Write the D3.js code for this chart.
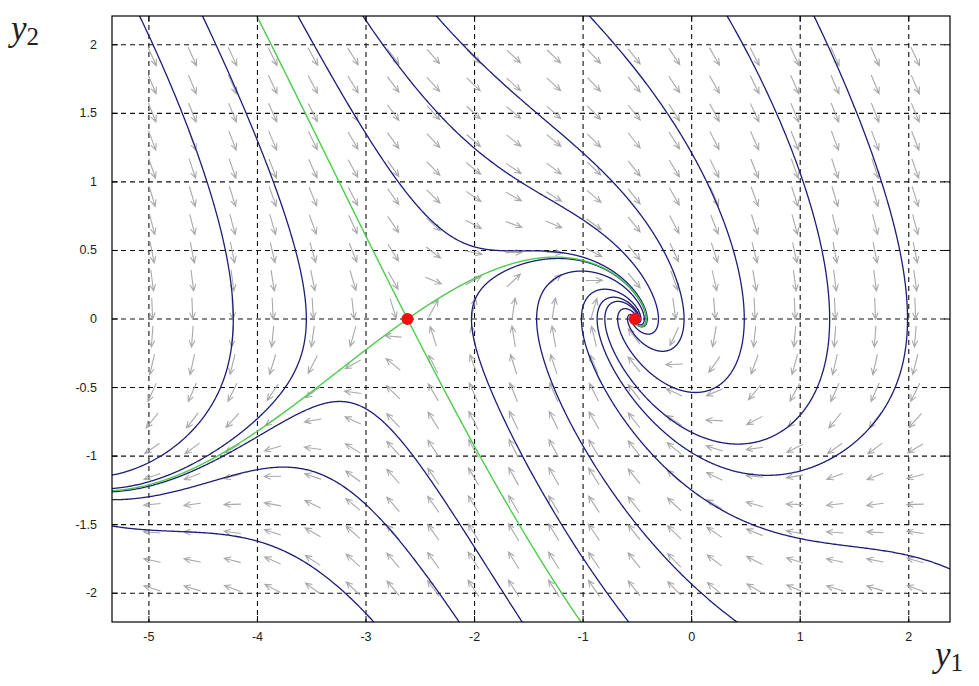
<!DOCTYPE html>
<html><head><meta charset="utf-8">
<script src="https://cdn.jsdelivr.net/npm/d3@7"></script>
<style>body{margin:0;background:#fff;} svg{display:block}</style>
</head><body>
<svg id="c" width="979" height="686"></svg>
<script>
// ---- data ----
const xDomain = [-5.34, 2.38];
const yDomain = [-2.21, 2.21];
const xTicks = [-5, -4, -3, -2, -1, 0, 1, 2];
const yTicks = [-2, -1.5, -1, -0.5, 0, 0.5, 1, 1.5, 2];
// system: y1' = y2 ; y2' = -damping*y2 - sin(y1) - forcing
const damping = 1.0;
const forcing = 0.5;
const equilibriaY1 = [-2.618, -0.5236];
const equilibriaY2 = [0, 0];
const saddleIndex = 0;
const focusIndex = 1;
const topSeedsY1 = [-5.08, -4.50, -3.62, -3.02, -2.34, -0.93, 0.334, 1.133];
const bottomSeedsY1 = [-2.94, -2.15, -1.57, -0.59, 0.40];
const rightSeedsY2 = [-1.82];
// direction-field grid
const fieldX = [-4.97,-4.60,-4.23,-3.86,-3.49,-3.12,-2.75,-2.38,-2.01,-1.64,-1.27,-0.90,-0.53,-0.16,0.21,0.58,0.95,1.32,1.69,2.06];
const fieldY = [1.915,1.711,1.506,1.302,1.098,0.894,0.690,0.485,0.281,0.077,-0.127,-0.331,-0.535,-0.740,-0.944,-1.148,-1.352,-1.556,-1.761,-1.965];

// ---- layout ----
const M = {left: 112, top: 16, right: 950, bottom: 622};
const svg = d3.select('#c');
const x = d3.scaleLinear().domain(xDomain).range([M.left, M.right]);
const y = d3.scaleLinear().domain(yDomain).range([M.bottom, M.top]);

svg.append('defs').append('clipPath').attr('id', 'clip')
  .append('rect').attr('x', M.left).attr('y', M.top)
  .attr('width', M.right - M.left).attr('height', M.bottom - M.top);

// grid
const grid = svg.append('g').attr('stroke', '#111').attr('stroke-width', 1.1)
  .attr('stroke-dasharray', '5,4').attr('fill', 'none');
xTicks.forEach(t => grid.append('line').attr('x1', x(t)).attr('x2', x(t)).attr('y1', M.top).attr('y2', M.bottom));
yTicks.forEach(t => grid.append('line').attr('y1', y(t)).attr('y2', y(t)).attr('x1', M.left).attr('x2', M.right));

// vector field
function F(p) { return [p[1], -damping * p[1] - Math.sin(p[0]) - forcing]; }
const arrows = svg.append('g').attr('stroke', '#a9a9a9').attr('stroke-width', 1.1).attr('fill', 'none');
const L = 0.155;
fieldX.forEach(a => fieldY.forEach(b => {
  const v = F([a, b]);
  const n = Math.hypot(v[0], v[1]) || 1;
  const dx = v[0] / n * L, dy = v[1] / n * L;
  const x0 = x(a - dx / 2), y0 = y(b - dy / 2), x1 = x(a + dx / 2), y1 = y(b + dy / 2);
  const ang = Math.atan2(y1 - y0, x1 - x0);
  const h = 7, s = 0.42;
  arrows.append('path').attr('d',
    `M${x0},${y0}L${x1},${y1}M${x1 - h * Math.cos(ang - s)},${y1 - h * Math.sin(ang - s)}L${x1},${y1}L${x1 - h * Math.cos(ang + s)},${y1 - h * Math.sin(ang + s)}`);
}));

// trajectories
function rk4(p, h) {
  const k1 = F(p);
  const k2 = F([p[0] + h / 2 * k1[0], p[1] + h / 2 * k1[1]]);
  const k3 = F([p[0] + h / 2 * k2[0], p[1] + h / 2 * k2[1]]);
  const k4 = F([p[0] + h * k3[0], p[1] + h * k3[1]]);
  return [p[0] + h / 6 * (k1[0] + 2 * k2[0] + 2 * k3[0] + k4[0]),
          p[1] + h / 6 * (k1[1] + 2 * k2[1] + 2 * k3[1] + k4[1])];
}
const fx = equilibriaY1[focusIndex], fy = equilibriaY2[focusIndex];
function integrate(p0, dir) {
  const pts = [p0]; let p = p0;
  for (let i = 0; i < 8000; i++) {
    p = rk4(p, 0.008 * dir);
    pts.push(p);
    if (p[0] < xDomain[0] - 0.05 || p[0] > xDomain[1] + 0.05 || p[1] < yDomain[0] - 0.05 || p[1] > yDomain[1] + 0.05) break;
    if (Math.hypot(p[0] - fx, p[1] - fy) < 0.004) break;
  }
  return pts;
}
function orbit(p0) {
  const b = integrate(p0, -1).reverse();
  const f = integrate(p0, 1);
  return b.concat(f.slice(1));
}
const line = d3.line().x(d => x(d[0])).y(d => y(d[1]));
const seeds = [];
topSeedsY1.forEach(v => seeds.push([v, 2.2]));
bottomSeedsY1.forEach(v => seeds.push([v, -2.2]));
rightSeedsY2.forEach(v => seeds.push([2.37, v]));
const trajG = svg.append('g').attr('clip-path', 'url(#clip)').attr('fill', 'none');
seeds.forEach(s => trajG.append('path').attr('d', line(orbit(s)))
  .attr('stroke', '#1d1d78').attr('stroke-width', 1.3));

// separatrices of the saddle
const sx = equilibriaY1[saddleIndex], sy = equilibriaY2[saddleIndex];
const c = -Math.cos(sx);
const lu = (-damping + Math.sqrt(damping * damping + 4 * c)) / 2;
const ls = (-damping - Math.sqrt(damping * damping + 4 * c)) / 2;
const eps = 1e-4;
[[1, lu, 1], [1, ls, -1]].forEach(([ex, ey, dir]) => {
  const nrm = Math.hypot(ex, ey);
  [1, -1].forEach(sg => {
    const p0 = [sx + sg * eps * ex / nrm, sy + sg * eps * ey / nrm];
    const pts = integrate(p0, dir);
    pts.unshift([sx, sy]);
    trajG.append('path').attr('d', line(pts)).attr('stroke', '#4ccc4c').attr('stroke-width', 1.4);
  });
});

// frame
svg.append('rect').attr('x', M.left).attr('y', M.top).attr('width', M.right - M.left)
  .attr('height', M.bottom - M.top).attr('fill', 'none').attr('stroke', '#000').attr('stroke-width', 1.2);

// ticks + labels
const tk = svg.append('g').attr('stroke', '#000').attr('stroke-width', 1);
xTicks.forEach(t => {
  tk.append('line').attr('x1', x(t)).attr('x2', x(t)).attr('y1', M.bottom).attr('y2', M.bottom - 6);
  tk.append('line').attr('x1', x(t)).attr('x2', x(t)).attr('y1', M.top).attr('y2', M.top + 6);
});
yTicks.forEach(t => {
  tk.append('line').attr('y1', y(t)).attr('y2', y(t)).attr('x1', M.left).attr('x2', M.left + 6);
  tk.append('line').attr('y1', y(t)).attr('y2', y(t)).attr('x1', M.right).attr('x2', M.right - 6);
});
const lab = svg.append('g').attr('font-family', 'Liberation Sans, Arial, sans-serif').attr('font-size', 12.5).attr('fill', '#222');
xTicks.forEach(t => lab.append('text').attr('x', x(t)).attr('y', M.bottom + 19).attr('text-anchor', 'middle').text(String(t)));
yTicks.forEach(t => lab.append('text').attr('x', M.left - 15).attr('y', y(t) + 4).attr('text-anchor', 'end').text(String(t)));

// axis titles
const t2 = svg.append('text').attr('x', 11).attr('y', 40).attr('font-family', 'Liberation Serif, serif')
  .attr('font-style', 'italic').attr('font-size', 35).attr('fill', '#222');
t2.append('tspan').text('y');
t2.append('tspan').attr('font-style', 'normal').attr('font-size', 25).attr('dy', 5).text('2');
const t1 = svg.append('text').attr('x', 935).attr('y', 666).attr('font-family', 'Liberation Serif, serif')
  .attr('font-style', 'italic').attr('font-size', 35).attr('fill', '#222');
t1.append('tspan').text('y');
t1.append('tspan').attr('font-style', 'normal').attr('font-size', 25).attr('dy', 5).text('1');

// equilibria
svg.append('g').selectAll('circle').data(equilibriaY1).join('circle')
  .attr('cx', (d) => x(d)).attr('cy', (d, i) => y(equilibriaY2[i])).attr('r', 6).attr('fill', '#f01010');
</script>
</body></html>
